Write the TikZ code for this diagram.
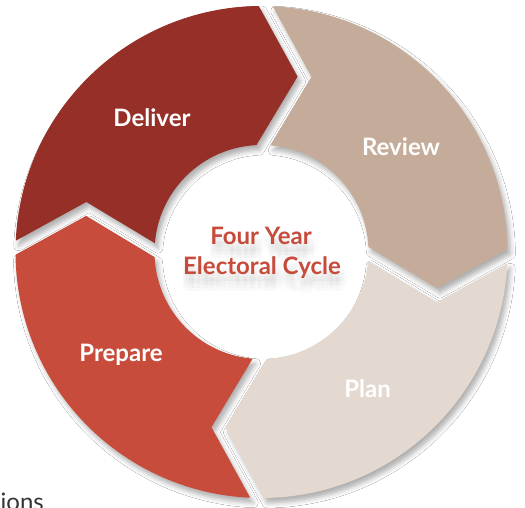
\documentclass[tikz,border=0pt]{standalone}
\usepackage{fontspec}
\newfontfamily\lato{Lato}
\usetikzlibrary{shadows.blur}
\definecolor{deliverc}{HTML}{952F27}
\definecolor{reviewc}{HTML}{C5AC9A}
\definecolor{planc}{HTML}{E4D9D0}
\definecolor{preparec}{HTML}{C74C3B}
\definecolor{hubc}{HTML}{C64B3A}
\definecolor{ink}{HTML}{333333}
\begin{document}
\begin{tikzpicture}[x=1pt,y=1pt,
  seg/.style={blur shadow={shadow xshift=3pt,shadow yshift=-5pt,shadow blur radius=5pt,shadow opacity=32}},
  lbl/.style={text=white,font=\lato\bfseries\fontsize{24}{29}\selectfont,anchor=base,inner sep=0pt},
  hub/.style={text=hubc,font=\lato\bfseries\fontsize{24}{29}\selectfont,anchor=base,inner sep=0pt},
  hubshade/.style={hub,text=black,text opacity=0.011}]
\useasboundingbox (-261.5,-256) rectangle (263.5,252);
\clip (-261.5,-256) rectangle (263.5,252);
\fill[white] (-261.5,-256) rectangle (263.5,252);
% four chevron segments of the ring, clockwise: tail notch at \a, head tip at \a-90
\foreach \a/\c in {179/deliverc,89/reviewc,269/preparec,-1/planc}{
  \pgfmathsetmacro\b{\a-90}
  \fill[seg,\c] ({\a-1.63}:246) -- ({\a-14.95}:182.2) -- ({\a-3.75}:107)
     arc[start angle={\a-3.75}, end angle={\b+3.75}, radius=107]
     -- ({\b-10.62}:179.1) -- ({\b+1.63}:246)
     arc[start angle={\b+1.63}, end angle={\a-1.63}, radius=246] -- cycle;
}
% soft, spread-out shadow under the hub title
\foreach \dx/\dy [count=\k] in {-2/-8,1/-8,4/-8,7/-8,-2/-11,1/-11,4/-11,7/-11,-2/-14,1/-14,4/-14,7/-14,-1/-17,2.5/-17,6/-17,0.5/-6,4/-6}{
  \node[hubshade] (shadeA\k) at (-0.5+\dx,7+\dy) {Four Year};
  \node[hubshade] (shadeB\k) at (0.5+\dx,-23+\dy) {Electoral Cycle};
}
\node[hub] (hubtop) at (-0.5,7) {Four Year};
\node[hub] (hubbottom) at (0.5,-23) {Electoral Cycle};
% stage labels
\node[lbl] (deliver) at (-109.5,125) {Deliver};
\node[lbl] (review) at (139.5,96) {Review};
\node[lbl] (plan) at (106,-146) {Plan};
\node[lbl] (prepare) at (-140.5,-110) {Prepare};
% trailing word at the lower edge
\node[anchor=base west,font=\lato\fontsize{24}{29}\selectfont,text=ink,inner sep=0pt] (ions) at (-261,-258) {ions};
\end{tikzpicture}
\end{document}
